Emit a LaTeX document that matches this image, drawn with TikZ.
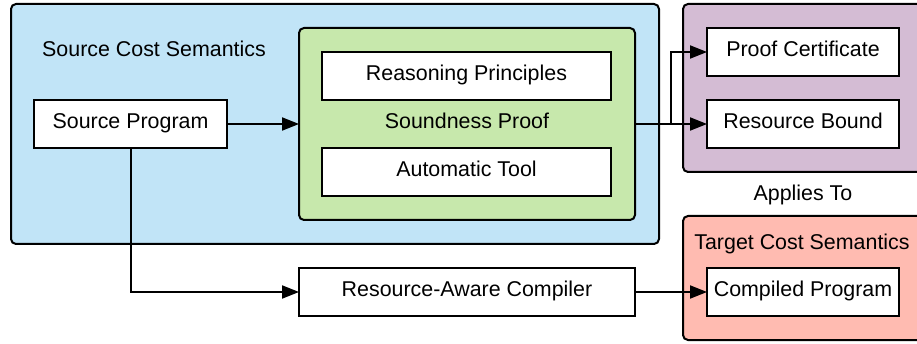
\documentclass[tikz,border=0pt]{standalone}
\usepackage{fontspec}
\setmainfont{Liberation Sans}
\usetikzlibrary{arrows.meta}
\definecolor{cblue}{RGB}{193,228,247}
\definecolor{cgreen}{RGB}{199,232,172}
\definecolor{cpurple}{RGB}{212,188,212}
\definecolor{cred}{RGB}{255,187,177}
\tikzset{
  grp/.style={draw=black, line width=2pt, rounded corners=5pt},
  wbox/.style={draw=black, fill=white, line width=2pt, anchor=north west, inner sep=0pt, outer sep=0pt},
  lbl/.style={font=\fontsize{21.4}{25}\selectfont, inner sep=0pt, anchor=base},
  conn/.style={line width=2pt, -{Triangle[length=17pt,width=13pt]}},
}
\newcommand{\wbx}[6]{% name, x, y, w, h, text
  \node[wbox, minimum width=#4pt, minimum height=#5pt] (#1) at (#2,#3) {};
  \node[lbl] at ([yshift=-5pt]#1.center) {#6};
}
\begin{document}
\begin{tikzpicture}[x=1pt,y=-1pt]
\useasboundingbox (0,0) rectangle (917,344);
\clip (0,0) rectangle (917,344);
% groups
\draw[grp, fill=cblue] (11,4) rectangle (659,244);
\draw[grp, fill=cgreen] (299,28) rectangle (635,220);
\coordinate (greenE) at (635,124);
\coordinate (greenW) at (299,124);
\draw[grp, fill=cpurple] (683,4) rectangle (930,172);
\draw[grp, fill=cred] (683,216) rectangle (930,340);
% labels
\node[lbl, anchor=base west] (srcsem) at (42,57) {Source Cost Semantics};
\node[lbl] (sound) at (467,129) {Soundness Proof};
\node[lbl] (applies) at (803,201) {Applies To};
\node[lbl] (tgtsem) at (802,250) {Target Cost Semantics};
% boxes
\wbx{srcprog}{34}{100}{193}{48}{Source Program}
\wbx{reason}{322}{52}{289}{48}{Reasoning Principles}
\wbx{auto}{322}{148}{289}{48}{Automatic Tool}
\wbx{cert}{707}{28}{192}{48}{Proof Certificate}
\wbx{bound}{707}{100}{192}{48}{Resource Bound}
\wbx{compiled}{707}{268}{192}{48}{Compiled Program}
\wbx{compiler}{299}{268}{336}{48}{Resource-Aware Compiler}
% connectors
\coordinate (split) at (671,124);
\draw[conn] (srcprog.east) -- (greenW);
\draw[conn] (greenE) -- (bound.west);
\draw[conn] (split) |- (cert.west);
\draw[conn] (srcprog.south) |- (compiler.west);
\draw[conn] (compiler.east) -- (compiled.west);
\end{tikzpicture}
\end{document}
